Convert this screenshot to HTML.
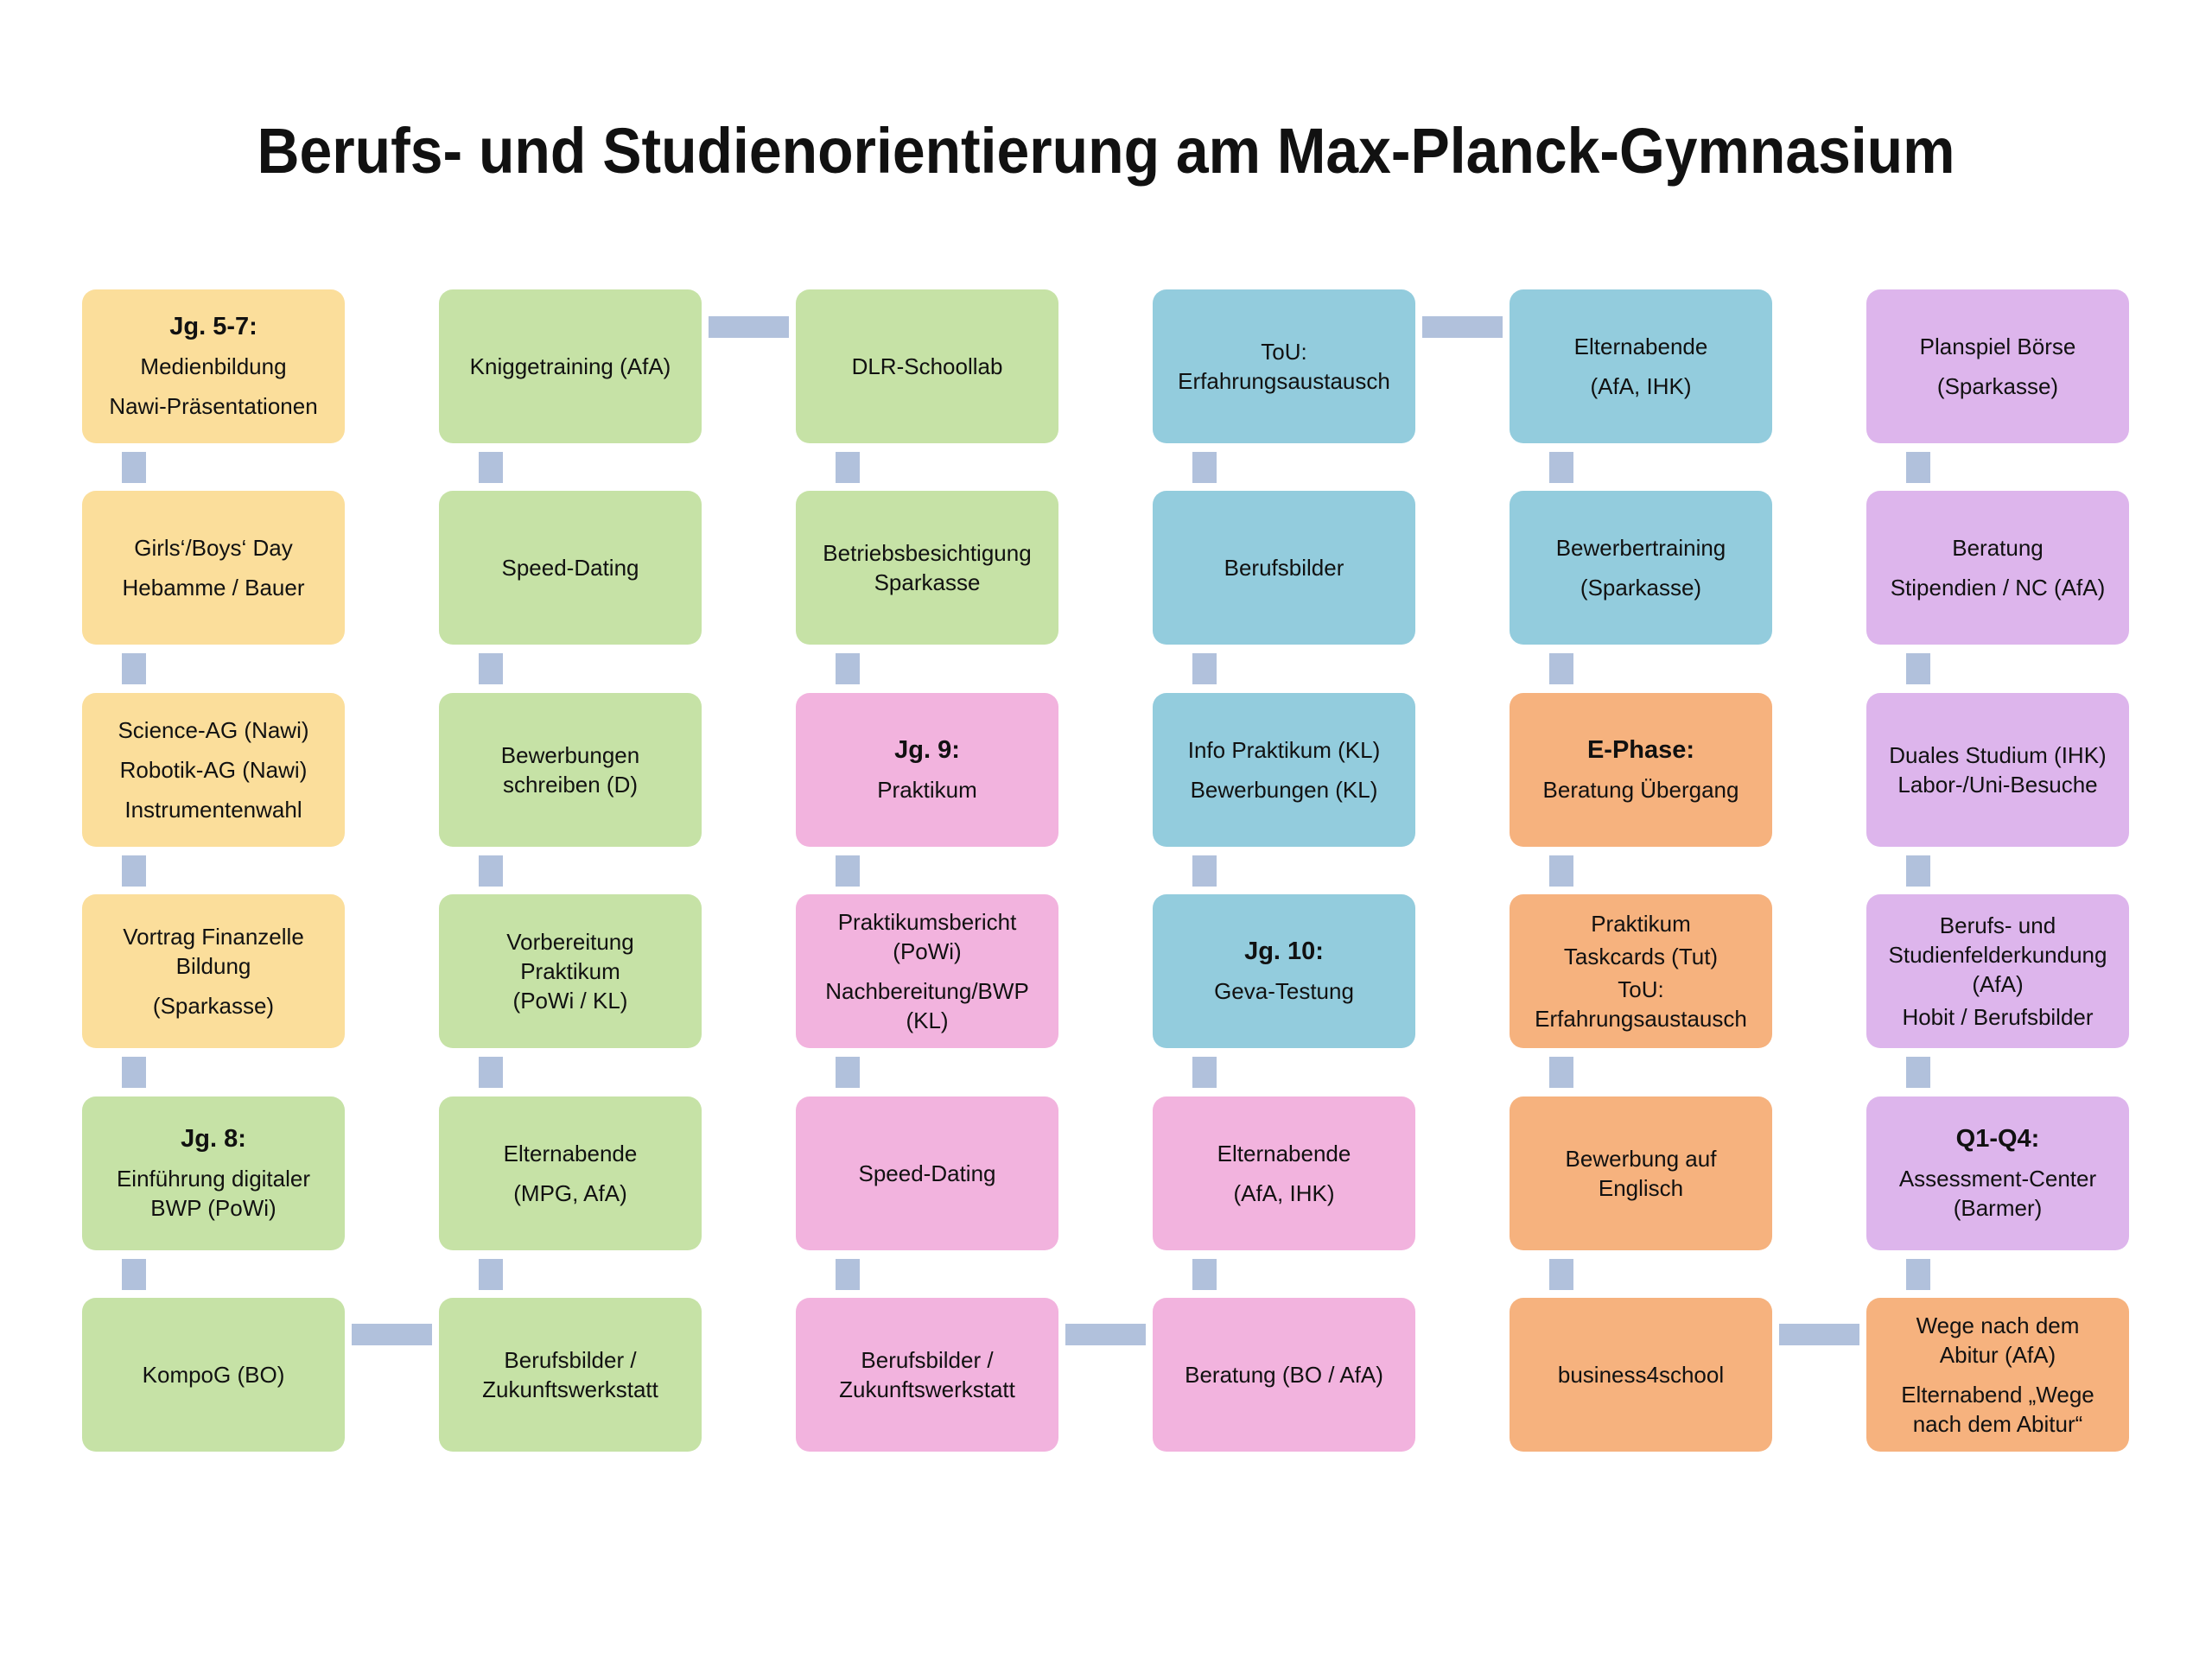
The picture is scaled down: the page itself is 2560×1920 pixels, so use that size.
<!DOCTYPE html>
<html><head><meta charset="utf-8"><style>
body{margin:0;width:2560px;height:1920px;background:#fff;position:relative;overflow:hidden;font-family:"Liberation Sans",Arial,sans-serif;}
.b{position:absolute;width:304px;height:178px;border-radius:16px;display:flex;flex-direction:column;justify-content:center;align-items:center;text-align:center;font-size:26px;color:#111;box-sizing:border-box;padding:0 6px;}
.b p{margin:6px 0;line-height:34px;}
.b b{font-size:29px;}
.Y{background:#FBDE9B}.G{background:#C6E2A6}.B{background:#93CCDD}.P{background:#F2B3DE}.O{background:#F6B27E}.U{background:#DDB5EC}
.v{position:absolute;width:28px;height:36px;background:#B1C1DC}
.h{position:absolute;width:93px;height:25px;background:#B1C1DC}
</style></head><body>
<svg style="position:absolute;left:0;top:0" width="2560" height="260"><text x="1280" y="200" text-anchor="middle" font-family="Liberation Sans, Arial, sans-serif" font-weight="bold" font-size="74" textLength="1965" lengthAdjust="spacingAndGlyphs" fill="#111">Berufs- und Studienorientierung am Max-Planck-Gymnasium</text></svg>

<!-- col1 x=95 -->
<div class="b Y" style="left:95px;top:335px"><p><b>Jg. 5-7:</b></p><p>Medienbildung</p><p>Nawi-Präsentationen</p></div>
<div class="b Y" style="left:95px;top:568px"><p>Girls‘/Boys‘ Day</p><p>Hebamme / Bauer</p></div>
<div class="b Y" style="left:95px;top:802px"><p>Science-AG (Nawi)</p><p>Robotik-AG (Nawi)</p><p>Instrumentenwahl</p></div>
<div class="b Y" style="left:95px;top:1035px"><p>Vortrag Finanzelle<br>Bildung</p><p>(Sparkasse)</p></div>
<div class="b G" style="left:95px;top:1269px"><p><b>Jg. 8:</b></p><p>Einführung digitaler<br>BWP (PoWi)</p></div>
<div class="b G" style="left:95px;top:1502px"><p>KompoG (BO)</p></div>

<!-- col2 x=508 -->
<div class="b G" style="left:508px;top:335px"><p>Kniggetraining (AfA)</p></div>
<div class="b G" style="left:508px;top:568px"><p>Speed-Dating</p></div>
<div class="b G" style="left:508px;top:802px"><p>Bewerbungen<br>schreiben (D)</p></div>
<div class="b G" style="left:508px;top:1035px"><p>Vorbereitung<br>Praktikum<br>(PoWi / KL)</p></div>
<div class="b G" style="left:508px;top:1269px"><p>Elternabende</p><p>(MPG, AfA)</p></div>
<div class="b G" style="left:508px;top:1502px"><p>Berufsbilder /<br>Zukunftswerkstatt</p></div>

<!-- col3 x=921 -->
<div class="b G" style="left:921px;top:335px"><p>DLR-Schoollab</p></div>
<div class="b G" style="left:921px;top:568px"><p>Betriebsbesichtigung<br>Sparkasse</p></div>
<div class="b P" style="left:921px;top:802px"><p><b>Jg. 9:</b></p><p>Praktikum</p></div>
<div class="b P" style="left:921px;top:1035px"><p>Praktikumsbericht<br>(PoWi)</p><p>Nachbereitung/BWP<br>(KL)</p></div>
<div class="b P" style="left:921px;top:1269px"><p>Speed-Dating</p></div>
<div class="b P" style="left:921px;top:1502px"><p>Berufsbilder /<br>Zukunftswerkstatt</p></div>

<!-- col4 x=1334 -->
<div class="b B" style="left:1334px;top:335px"><p>ToU:<br>Erfahrungsaustausch</p></div>
<div class="b B" style="left:1334px;top:568px"><p>Berufsbilder</p></div>
<div class="b B" style="left:1334px;top:802px"><p>Info Praktikum (KL)</p><p>Bewerbungen (KL)</p></div>
<div class="b B" style="left:1334px;top:1035px"><p><b>Jg. 10:</b></p><p>Geva-Testung</p></div>
<div class="b P" style="left:1334px;top:1269px"><p>Elternabende</p><p>(AfA, IHK)</p></div>
<div class="b P" style="left:1334px;top:1502px"><p>Beratung (BO / AfA)</p></div>

<!-- col5 x=1747 -->
<div class="b B" style="left:1747px;top:335px"><p>Elternabende</p><p>(AfA, IHK)</p></div>
<div class="b B" style="left:1747px;top:568px"><p>Bewerbertraining</p><p>(Sparkasse)</p></div>
<div class="b O" style="left:1747px;top:802px"><p><b>E-Phase:</b></p><p>Beratung Übergang</p></div>
<div class="b O" style="left:1747px;top:1035px"><p style="margin:2px 0">Praktikum</p><p style="margin:2px 0">Taskcards (Tut)</p><p style="margin:2px 0">ToU:<br>Erfahrungsaustausch</p></div>
<div class="b O" style="left:1747px;top:1269px"><p>Bewerbung auf<br>Englisch</p></div>
<div class="b O" style="left:1747px;top:1502px"><p>business4school</p></div>

<!-- col6 x=2160 -->
<div class="b U" style="left:2160px;top:335px"><p>Planspiel Börse</p><p>(Sparkasse)</p></div>
<div class="b U" style="left:2160px;top:568px"><p>Beratung</p><p>Stipendien / NC (AfA)</p></div>
<div class="b U" style="left:2160px;top:802px"><p>Duales Studium (IHK)<br>Labor-/Uni-Besuche</p></div>
<div class="b U" style="left:2160px;top:1035px"><p style="margin:2px 0">Berufs- und<br>Studienfelderkundung<br>(AfA)</p><p style="margin:2px 0">Hobit / Berufsbilder</p></div>
<div class="b U" style="left:2160px;top:1269px"><p><b>Q1-Q4:</b></p><p>Assessment-Center<br>(Barmer)</p></div>
<div class="b O" style="left:2160px;top:1502px"><p>Wege nach dem<br>Abitur (AfA)</p><p>Elternabend „Wege<br>nach dem Abitur“</p></div>

<!-- vertical connectors -->
<div id="vc"></div>
<div class="v" style="left:141px;top:523px"></div><div class="v" style="left:141px;top:756px"></div><div class="v" style="left:141px;top:990px"></div><div class="v" style="left:141px;top:1223px"></div><div class="v" style="left:141px;top:1457px"></div>
<div class="v" style="left:554px;top:523px"></div><div class="v" style="left:554px;top:756px"></div><div class="v" style="left:554px;top:990px"></div><div class="v" style="left:554px;top:1223px"></div><div class="v" style="left:554px;top:1457px"></div>
<div class="v" style="left:967px;top:523px"></div><div class="v" style="left:967px;top:756px"></div><div class="v" style="left:967px;top:990px"></div><div class="v" style="left:967px;top:1223px"></div><div class="v" style="left:967px;top:1457px"></div>
<div class="v" style="left:1380px;top:523px"></div><div class="v" style="left:1380px;top:756px"></div><div class="v" style="left:1380px;top:990px"></div><div class="v" style="left:1380px;top:1223px"></div><div class="v" style="left:1380px;top:1457px"></div>
<div class="v" style="left:1793px;top:523px"></div><div class="v" style="left:1793px;top:756px"></div><div class="v" style="left:1793px;top:990px"></div><div class="v" style="left:1793px;top:1223px"></div><div class="v" style="left:1793px;top:1457px"></div>
<div class="v" style="left:2206px;top:523px"></div><div class="v" style="left:2206px;top:756px"></div><div class="v" style="left:2206px;top:990px"></div><div class="v" style="left:2206px;top:1223px"></div><div class="v" style="left:2206px;top:1457px"></div>

<!-- horizontal connectors -->
<div class="h" style="left:820px;top:366px"></div>
<div class="h" style="left:1646px;top:366px"></div>
<div class="h" style="left:407px;top:1532px"></div>
<div class="h" style="left:1233px;top:1532px"></div>
<div class="h" style="left:2059px;top:1532px"></div>
</body></html>
